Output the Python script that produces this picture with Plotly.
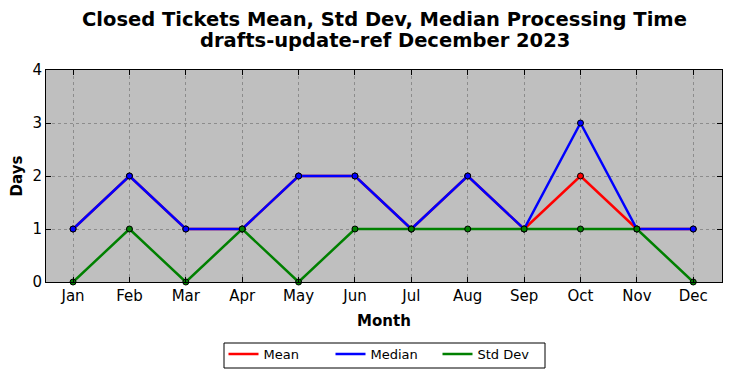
import plotly.graph_objects as go

months = ["Jan", "Feb", "Mar", "Apr", "May", "Jun", "Jul", "Aug", "Sep", "Oct", "Nov", "Dec"]
mean_vals = [1, 2, 1, 1, 2, 2, 1, 2, 1, 2, 1, 1]
median_vals = [1, 2, 1, 1, 2, 2, 1, 2, 1, 3, 1, 1]
std_vals = [0, 1, 0, 1, 0, 1, 1, 1, 1, 1, 1, 0]
y_ticks = [0, 1, 2, 3, 4]
title_lines = ["Closed Tickets Mean, Std Dev, Median Processing Time", "drafts-update-ref December 2023"]

series = [("Mean", mean_vals, "#ff0000"), ("Median", median_vals, "#0000ff"), ("Std Dev", std_vals, "#008000")]
x_idx = list(range(len(months)))

fig = go.Figure()
for name, vals, col in series:
    fig.add_trace(go.Scatter(x=x_idx, y=vals, mode="lines", name=name,
                             line=dict(color=col, width=2.5), cliponaxis=False))
    fig.add_trace(go.Scatter(x=x_idx, y=vals, mode="markers", showlegend=False,
                             marker=dict(color=col, size=6, line=dict(color="black", width=1)),
                             cliponaxis=False, hoverinfo="skip"))

font_family = "DejaVu Sans"
# page body has an 8px margin, so the figure is laid out 8px smaller and offset
plot_w, plot_h = 676, 212
for txt, above in zip(title_lines, [51, 29]):
    fig.add_annotation(text="<b>" + txt + "</b>", xref="paper", yref="paper",
                       x=(385 - 46) / plot_w, y=1 + above / plot_h,
                       showarrow=False, xanchor="center", yanchor="middle",
                       font=dict(size=19.5, family=font_family, color="black"))

# legend frame
fig.add_shape(type="rect", xref="paper", yref="paper",
              x0=(224 - 46) / plot_w, x1=(545 - 46) / plot_w,
              y0=-(368 - 282) / plot_h, y1=-(343 - 282) / plot_h,
              line=dict(color="black", width=1), fillcolor="white", layer="below")

fig.update_layout(
    width=716, height=362,
    margin=dict(l=38, r=2, t=62, b=88, autoexpand=False),
    paper_bgcolor="white", plot_bgcolor="#bfbfbf",
    font=dict(family=font_family, color="black"),
    xaxis=dict(range=[-0.48, 11.51], tickmode="array", tickvals=x_idx, ticktext=months,
               ticks="inside", ticklen=5, tickcolor="black", showline=True, linecolor="black", linewidth=1,
               mirror="ticks", showgrid=True, gridcolor="#8c8c8c", griddash="dot", gridwidth=1,
               zeroline=False, tickfont=dict(size=15), automargin=False,
               title=dict(text="<b>Month</b>", font=dict(size=15), standoff=11)),
    yaxis=dict(range=[0, 4], tickvals=y_ticks, ticks="inside", ticklen=5, tickcolor="black",
               showline=True, linecolor="black", linewidth=1, mirror="ticks",
               showgrid=True, gridcolor="#8c8c8c", griddash="dot", gridwidth=1, zeroline=False,
               tickfont=dict(size=15), automargin=False,
               title=dict(text="<b>Days</b>", font=dict(size=15), standoff=6)),
    legend=dict(orientation="h", x=0.5, xanchor="center", y=-(339 - 282) / plot_h, yanchor="top",
                borderwidth=0, bgcolor="rgba(0,0,0,0)", font=dict(size=13),
                entrywidth=62),
)

fig.write_html("out.html")
